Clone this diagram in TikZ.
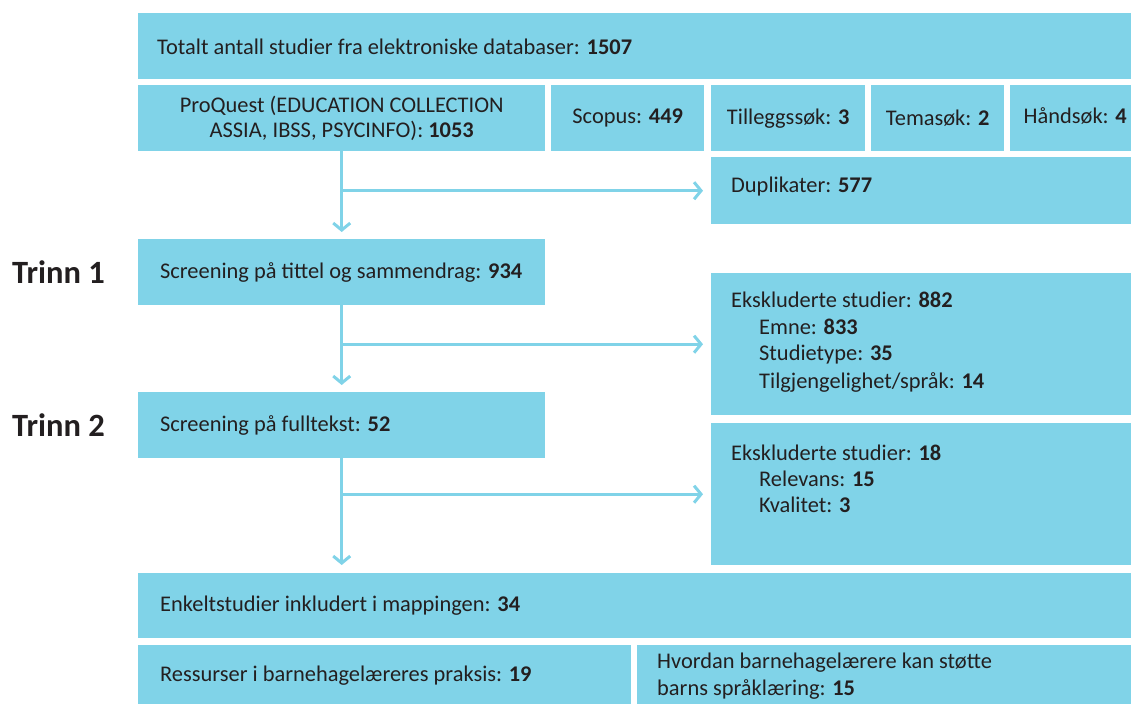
\documentclass[tikz,border=0pt]{standalone}
\usepackage{fontspec}
\setmainfont{Carlito}
\usetikzlibrary{arrows.meta}
\definecolor{boxc}{HTML}{80D3E8}
\definecolor{txtc}{HTML}{231F20}
\begin{document}
\begin{tikzpicture}[x=1pt,y=-1pt,
  box/.style={fill=boxc, draw=none, inner sep=0pt, anchor=north west},
  txt/.style={text=txtc, inner sep=0pt, font=\fontsize{22.4}{25.5}\selectfont},
  trinn/.style={text=txtc, inner sep=0pt, anchor=west, font=\fontsize{32.5}{34}\selectfont\bfseries},
  conn/.style={draw=boxc, line width=3pt, -{Straight Barb[length=7pt,width=17pt,line width=3pt]}}]
\useasboundingbox (0,0) rectangle (1131,704);
% boxes
\node[box, minimum width=993pt, minimum height=66pt] (top) at (138,13) {};
\node[box, minimum width=407pt, minimum height=66pt] (proq) at (138,85) {};
\node[box, minimum width=153pt, minimum height=66pt] (scop) at (551,85) {};
\node[box, minimum width=154pt, minimum height=66pt] (till) at (711,85) {};
\node[box, minimum width=133pt, minimum height=66pt] (tema) at (871,85) {};
\node[box, minimum width=121pt, minimum height=66pt] (hand) at (1010,85) {};
\node[box, minimum width=420pt, minimum height=67pt] (dup) at (711,157) {};
\node[box, minimum width=407pt, minimum height=66pt] (s1) at (138,239) {};
\node[box, minimum width=420pt, minimum height=142pt] (ex1) at (711,273) {};
\node[box, minimum width=407pt, minimum height=66pt] (s2) at (138,392) {};
\node[box, minimum width=420pt, minimum height=142pt] (ex2) at (711,423) {};
\node[box, minimum width=993pt, minimum height=65pt] (enk) at (138,573) {};
\node[box, minimum width=493pt, minimum height=59pt] (res) at (138,645) {};
\node[box, minimum width=494pt, minimum height=59pt] (hvo) at (637,645) {};
% texts
\node[txt, anchor=west] (topt) at (157,47) {Totalt antall studier fra elektroniske databaser: \textbf{1507}};
\node[txt, align=center] (proqt) at (proq.center) {ProQuest (EDUCATION COLLECTION\\ASSIA, IBSS, PSYCINFO): \textbf{1053}};
\node[txt] (scopt) at (scop.center) {Scopus: \textbf{449}};
\node[txt] (tillt) at (till.center) {Tilleggssøk: \textbf{3}};
\node[txt] (temat) at (tema.center) {Temasøk: \textbf{2}};
\node[txt, anchor=east] (handt) at (1127,116) {Håndsøk: \textbf{4}};
\node[txt, anchor=west] (dupt) at (731,187) {Duplikater: \textbf{577}};
\node[txt, anchor=west] (s1t) at (160,272) {Screening på tittel og sammendrag: \textbf{934}};
\node[txt, anchor=west] (e1a) at (731,300) {Ekskluderte studier: \textbf{882}};
\node[txt, anchor=west] (e1b) at (759,327) {Emne: \textbf{833}};
\node[txt, anchor=west] (e1c) at (759,355) {Studietype: \textbf{35}};
\node[txt, anchor=west] (e1d) at (759,382) {Tilgjengelighet/språk: \textbf{14}};
\node[txt, anchor=west] (s2t) at (160,425) {Screening på fulltekst: \textbf{52}};
\node[txt, anchor=west] (e2a) at (731,453) {Ekskluderte studier: \textbf{18}};
\node[txt, anchor=west] (e2b) at (759,479) {Relevans: \textbf{15}};
\node[txt, anchor=west] (e2c) at (759,505) {Kvalitet: \textbf{3}};
\node[txt, anchor=west] (enkt) at (160,606) {Enkeltstudier inkludert i mappingen: \textbf{34}};
\node[txt, anchor=west] (rest) at (160,676) {Ressurser i barnehagelæreres praksis: \textbf{19}};
\node[txt, anchor=west, align=left, font=\fontsize{22.4}{27}\selectfont] (hvot) at (657,676) {Hvordan barnehagelærere kan støtte\\barns språklæring: \textbf{15}};
\node[trinn] (t1) at (12,272) {Trinn 1};
\node[trinn] (t2) at (12,425) {Trinn 2};
% connectors
\draw[conn, shorten >=7pt] (proq.south) -- (s1.north);
\draw[conn, shorten >=8pt] (proq.south |- dup.west) -- (dup.west);
\draw[conn, shorten >=7pt] (s1.south) -- (s2.north);
\draw[conn, shorten >=8pt] (s1.south |- ex1.west) -- (ex1.west);
\draw[conn, shorten >=8pt] (s2.south) -- (s2.south |- enk.north);
\draw[conn, shorten >=8pt] (s2.south |- ex2.west) -- (ex2.west);
\end{tikzpicture}
\end{document}
